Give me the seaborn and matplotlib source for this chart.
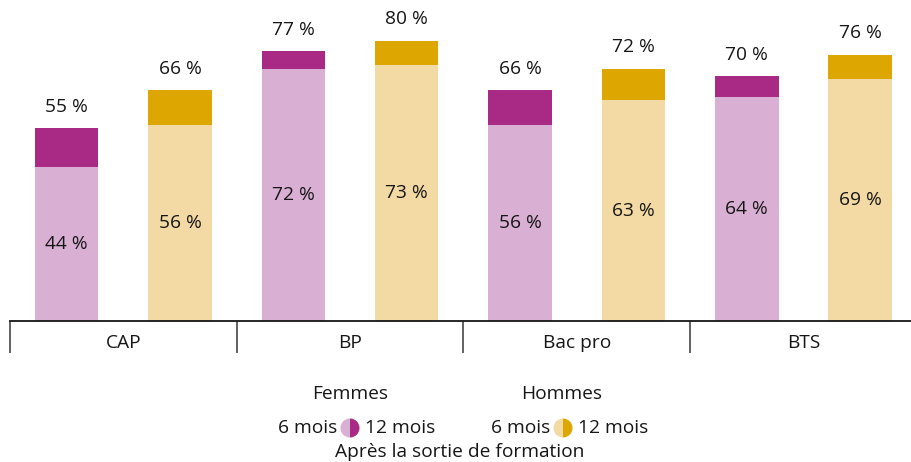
import matplotlib
matplotlib.use("Agg")
import matplotlib.pyplot as plt
from matplotlib.patches import Wedge
import pandas as pd
import seaborn as sns

# Taux d'emploi selon le diplôme, le sexe et la durée après la sortie de formation
diplomes = ["CAP", "BP", "Bac pro", "BTS"]
sexes = ["Femmes", "Hommes"]
femmes_6 = [44, 72, 56, 64]
femmes_12 = [55, 77, 66, 70]
hommes_6 = [56, 73, 63, 69]
hommes_12 = [66, 80, 72, 76]

couleurs_6 = {"Femmes": "#D9AFD3", "Hommes": "#F3D9A4"}
couleurs_12 = {"Femmes": "#A82A85", "Hommes": "#DEA600"}

df6 = pd.DataFrame({"diplome": diplomes * 2,
                    "sexe": ["Femmes"] * 4 + ["Hommes"] * 4,
                    "taux": femmes_6 + hommes_6})
df12 = pd.DataFrame({"diplome": diplomes * 2,
                     "sexe": ["Femmes"] * 4 + ["Hommes"] * 4,
                     "taux": femmes_12 + hommes_12})

sns.set_theme(style="white")
plt.rcParams["font.family"] = ["Open Sans", "DejaVu Sans"]
FS = 13.8

W, H = 911, 462
fig = plt.figure(figsize=(W / 100, H / 100), dpi=100)
base_y = 321
ax = fig.add_axes([10 / W, (H - base_y) / H, 1 - 10 / W, base_y / H])

# barres à 12 mois (fond), puis barres à 6 mois par-dessus
sns.barplot(data=df12, x="diplome", y="taux", hue="sexe", hue_order=sexes,
            palette=couleurs_12, width=1.0, gap=0.44, order=diplomes,
            legend=False, ax=ax, saturation=1, linewidth=0)
n12 = len(ax.containers)
sns.barplot(data=df6, x="diplome", y="taux", hue="sexe", hue_order=sexes,
            palette=couleurs_6, width=1.0, gap=0.44, order=diplomes,
            legend=False, ax=ax, saturation=1, linewidth=0)

for i, cont in enumerate(ax.containers):
    if i < n12:
        ax.bar_label(cont, fmt="{:.0f} %", padding=9, fontsize=FS, color="#161616")
    else:
        ax.bar_label(cont, fmt="{:.0f} %", label_type="center", fontsize=FS, color="#161616")

group_px = 226.7
ax.set_xlim(-0.5, -0.5 + (W - 10) / group_px)
ax.set_ylim(0, base_y / 3.5)
ax.set_xlabel("")
ax.set_ylabel("")
ax.set_yticks([])
for s in ["top", "right", "left"]:
    ax.spines[s].set_visible(False)
ax.spines["bottom"].set_color("#161616")
ax.spines["bottom"].set_linewidth(1.3)

ax.set_xticks(range(len(diplomes)))
ax.set_xticklabels(diplomes, fontsize=FS, color="#161616")
ax.tick_params(axis="x", which="major", length=0, pad=9)
ax.set_xticks([-0.5, 0.5, 1.5, 2.5], minor=True)
ax.tick_params(axis="x", which="minor", length=23, width=1.3, color="#555555", bottom=True)

# légende
def fy(y):
    return 1 - y / H

def fx(x):
    return x / W

txt = dict(fontsize=FS, color="#161616", va="center")
fig.text(fx(350), fy(394), "Femmes", ha="center", **txt)
fig.text(fx(562), fy(394), "Hommes", ha="center", **txt)
for cx, sexe in [(350, "Femmes"), (563, "Hommes")]:
    fig.text(fx(cx - 13), fy(428), "6 mois", ha="right", **txt)
    fig.text(fx(cx + 15), fy(428), "12 mois", ha="left", **txt)
    centre = (cx / 100, (H - 428) / 100)
    fig.patches.append(Wedge(centre, 0.095, 90, 270, facecolor=couleurs_6[sexe],
                             transform=fig.dpi_scale_trans, figure=fig, linewidth=0))
    fig.patches.append(Wedge(centre, 0.095, -90, 90, facecolor=couleurs_12[sexe],
                             transform=fig.dpi_scale_trans, figure=fig, linewidth=0))
fig.text(fx(460), fy(452), "Après la sortie de formation", ha="center", **txt)

fig.savefig("out.png", dpi=100)
